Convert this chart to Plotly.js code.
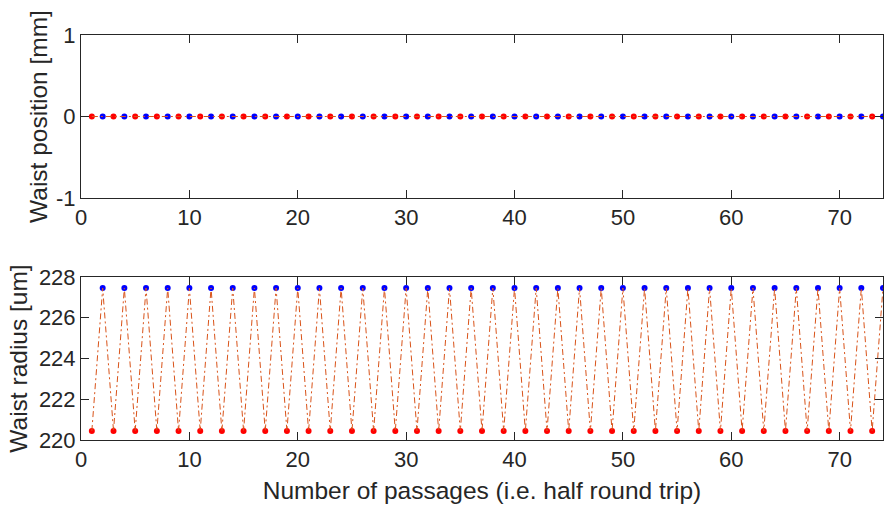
<!DOCTYPE html>
<html>
<head>
<meta charset="utf-8">
<script src="https://cdn.plot.ly/plotly-3.0.1.min.js"></script>
<style>html,body{margin:0;padding:0;background:#fff;}#chart{width:885px;height:509px;}</style>
</head>
<body>
<div id="chart"></div>
<script>
const passages = [1,2,3,4,5,6,7,8,9,10,11,12,13,14,15,16,17,18,19,20,21,22,23,24,25,26,27,28,29,30,31,32,33,34,35,36,37,38,39,40,41,42,43,44,45,46,47,48,49,50,51,52,53,54,55,56,57,58,59,60,61,62,63,64,65,66,67,68,69,70,71,72,73,74];
const waistPosition = [0,0,0,0,0,0,0,0,0,0,0,0,0,0,0,0,0,0,0,0,0,0,0,0,0,0,0,0,0,0,0,0,0,0,0,0,0,0,0,0,0,0,0,0,0,0,0,0,0,0,0,0,0,0,0,0,0,0,0,0,0,0,0,0,0,0,0,0,0,0,0,0,0,0];
const waistRadius = [220.44,227.46,220.44,227.46,220.44,227.46,220.44,227.46,220.44,227.46,220.44,227.46,220.44,227.46,220.44,227.46,220.44,227.46,220.44,227.46,220.44,227.46,220.44,227.46,220.44,227.46,220.44,227.46,220.44,227.46,220.44,227.46,220.44,227.46,220.44,227.46,220.44,227.46,220.44,227.46,220.44,227.46,220.44,227.46,220.44,227.46,220.44,227.46,220.44,227.46,220.44,227.46,220.44,227.46,220.44,227.46,220.44,227.46,220.44,227.46,220.44,227.46,220.44,227.46,220.44,227.46,220.44,227.46,220.44,227.46,220.44,227.46,220.44,227.46];
const xTicks = [0,10,20,30,40,50,60,70];
const yTicksTop = [-1,0,1];
const yTicksBottom = [220,222,224,226,228];
const xLabel = 'Number of passages (i.e. half round trip)';
const yLabelTop = 'Waist position [mm]';
const yLabelBottom = 'Waist radius [um]';

const oddIdx = passages.map((p,i)=>i).filter(i => passages[i] % 2 === 1);
const evenIdx = passages.map((p,i)=>i).filter(i => passages[i] % 2 === 0);
const pick = (arr, idx) => idx.map(i => arr[i]);

const lineColor = '#D95319';
const red = '#FF0000', blue = '#0000FF';
const msize = 6;

function traces(y, xa, ya) {
  return [
    {x: pick(passages, oddIdx), y: pick(y, oddIdx), xaxis: xa, yaxis: ya, mode: 'markers', type: 'scatter',
     marker: {color: red, size: msize}, showlegend: false, hoverinfo: 'skip'},
    {x: pick(passages, evenIdx), y: pick(y, evenIdx), xaxis: xa, yaxis: ya, mode: 'markers', type: 'scatter',
     marker: {color: blue, size: msize}, showlegend: false, hoverinfo: 'skip'},
    {x: passages, y: y, xaxis: xa, yaxis: ya, mode: 'lines', type: 'scatter',
     line: {color: lineColor, width: 1, dash: '6px,3px,2px,3px'}, showlegend: false, hoverinfo: 'skip'}
  ];
}

const data = [].concat(traces(waistPosition, 'x', 'y'), traces(waistRadius, 'x2', 'y2'));

const axCol = '#262626';
const tickFont = {family: 'Liberation Sans, Arial, sans-serif', size: 22, color: axCol};
const titleFont = {family: 'Liberation Sans, Arial, sans-serif', size: 24.5, color: axCol};

const xBase = {
  range: [0, 74], tickvals: xTicks, ticktext: xTicks.map(String),
  ticks: 'inside', ticklen: 8, tickwidth: 1, tickcolor: axCol,
  showline: true, linecolor: axCol, linewidth: 1, mirror: 'allticks',
  showgrid: false, zeroline: false, tickfont: tickFont
};
const yBase = {
  ticks: 'inside', ticklen: 8, tickwidth: 1, tickcolor: axCol,
  showline: true, linecolor: axCol, linewidth: 1, mirror: 'allticks',
  showgrid: false, zeroline: false, tickfont: tickFont
};

const layout = {
  width: 885, height: 509,
  margin: {l: 81, r: 2, t: 35, b: 69},
  paper_bgcolor: '#fff', plot_bgcolor: '#fff',
  showlegend: false,
  xaxis: Object.assign({}, xBase, {anchor: 'y', domain: [0,1]}),
  yaxis: Object.assign({}, yBase, {domain: [0.5975, 1], range: [-1, 1], tickvals: yTicksTop, ticktext: yTicksTop.map(String),
    title: {text: yLabelTop, font: titleFont, standoff: 1}}),
  xaxis2: Object.assign({}, xBase, {anchor: 'y2', domain: [0,1],
    title: {text: xLabel, font: titleFont, standoff: 10}}),
  yaxis2: Object.assign({}, yBase, {domain: [0, 0.4025], range: [220, 228], tickvals: yTicksBottom, ticktext: yTicksBottom.map(String),
    title: {text: yLabelBottom, font: titleFont, standoff: 4}})
};

Plotly.newPlot('chart', data, layout, {staticPlot: true, displayModeBar: false});
</script>
</body>
</html>
